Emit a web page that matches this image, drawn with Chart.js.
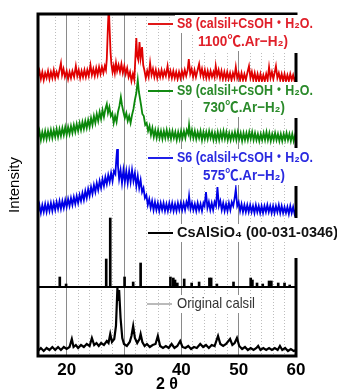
<!DOCTYPE html>
<html>
<head>
<meta charset="utf-8">
<script src="https://cdn.jsdelivr.net/npm/chart.js@4.4.1/dist/chart.umd.min.js"></script>
<style>
html,body{margin:0;padding:0;background:#fff;}
#wrap{width:337px;height:392px;}
</style>
</head>
<body>
<div id="wrap"><canvas id="c" width="337" height="392"></canvas></div>
<script>
// ---- data (2θ in degrees, stacked intensity in arbitrary units) ----
const xTickLabels = [20, 30, 40, 50, 60];

const seriesNames = [
  "S8 (calsil+CsOH・H₂O.", "S9 (calsil+CsOH・H₂O.", "S6 (calsil+CsOH・H₂O.",
  "CsAlSiO₄ (00-031-0346)", "Original calsil"
];
const seriesSub = ["1100℃.Ar−H₂)", "730℃.Ar−H₂)", "575℃.Ar−H₂)"];

const s8 = [[15,279],[15.25,285],[15.5,277],[15.75,284],[16,276],[16.25,283],[16.5,278],[16.75,285],[17,277],[17.25,284],[17.5,278],[17.75,286],[18,278],[18.25,284],[18.5,279],[18.75,286],[19,293],[19.2,281],[19.45,287],[19.7,279],[20,285],[20.25,277],[20.5,284],[20.75,278],[21,285],[21.3,279],[21.6,290],[21.85,280],[22.1,286],[22.35,278],[22.6,285],[22.85,279],[23.1,286],[23.35,279],[23.6,286],[23.85,280],[24.15,291],[24.4,281],[24.65,287],[24.9,280],[25.15,288],[25.4,281],[25.65,289],[25.9,282],[26.15,289],[26.4,283],[26.65,290],[26.85,286],[27.0,297],[27.2,330],[27.35,350],[27.5,326],[27.65,304],[27.8,292],[28.0,284],[28.2,290],[28.4,283],[28.6,293],[28.8,285],[29.05,291],[29.3,284],[29.55,292],[29.8,283],[30.05,290],[30.3,282],[30.55,288],[30.8,279],[31.05,284],[31.3,275],[31.55,282],[31.8,276],[32.0,300],[32.15,318],[32.3,300],[32.5,296],[32.7,314],[32.9,298],[33.15,309],[33.35,291],[33.55,286],[33.8,278],[34.05,285],[34.3,279],[34.55,293],[34.8,281],[35.05,287],[35.3,279],[35.55,286],[35.8,278],[36.05,285],[36.3,279],[36.55,286],[36.8,279],[37.05,285],[37.3,280],[37.6,290],[37.85,279],[38.1,285],[38.35,278],[38.6,285],[38.85,278],[39.1,284],[39.35,277],[39.6,284],[39.85,278],[40.1,285],[40.35,279],[40.6,286],[40.85,280],[41.1,286],[41.3,297],[41.55,282],[41.8,287],[42.05,279],[42.3,286],[42.55,279],[42.8,285],[43.1,292],[43.35,281],[43.6,287],[43.85,279],[44.1,286],[44.35,278],[44.6,285],[44.85,278],[45.1,285],[45.35,279],[45.6,284],[45.8,279],[46.0,290],[46.25,280],[46.5,286],[46.75,278],[47.0,285],[47.25,277],[47.5,284],[47.75,277],[48.0,284],[48.25,277],[48.5,283],[48.75,276],[49.0,283],[49.25,278],[49.5,289],[49.75,278],[50.0,283],[50.25,276],[50.5,283],[50.75,276],[51.0,282],[51.25,276],[51.55,284],[51.8,290],[52.05,278],[52.3,284],[52.55,276],[52.8,283],[53.05,275],[53.3,282],[53.55,275],[53.8,282],[54.05,275],[54.3,281],[54.55,275],[54.8,282],[55.05,276],[55.3,289],[55.55,278],[55.8,284],[56.05,277],[56.3,284],[56.5,290],[56.75,278],[57.0,283],[57.25,276],[57.5,282],[57.75,275],[58.0,282],[58.25,275],[58.5,281],[58.75,275],[59.0,282],[59.25,276],[59.5,281],[59.75,275],[60,280]];

const s9 = [[15,218],[15.25,225],[15.5,216],[15.75,224],[16,217],[16.25,225],[16.5,217],[16.75,225],[17,218],[17.25,226],[17.5,218],[17.75,226],[18,219],[18.25,227],[18.5,219],[18.75,227],[19,220],[19.25,228],[19.5,221],[19.75,229],[20,221],[20.25,229],[20.5,222],[20.75,230],[21,223],[21.25,231],[21.5,224],[21.75,232],[22,225],[22.25,233],[22.5,226],[22.75,234],[23,227],[23.25,235],[23.5,228],[23.75,236],[24,229],[24.25,238],[24.5,231],[24.75,240],[25,233],[25.25,242],[25.5,235],[25.75,244],[26,237],[26.25,246],[26.5,239],[26.75,247],[27.0,252],[27.2,243],[27.45,249],[27.7,240],[27.95,243],[28.2,233],[28.45,240],[28.7,234],[28.95,244],[29.2,250],[29.45,259],[29.65,251],[29.9,244],[30.15,238],[30.4,243],[30.65,235],[30.9,240],[31.15,233],[31.4,241],[31.65,247],[31.9,256],[32.15,263],[32.4,276],[32.6,264],[32.8,257],[33.0,250],[33.2,242],[33.45,240],[33.7,231],[33.95,233],[34.2,225],[34.45,230],[34.7,221],[34.95,228],[35.2,219],[35.45,226],[35.7,218],[35.95,226],[36.2,218],[36.45,225],[36.7,217],[36.95,225],[37.2,218],[37.45,226],[37.7,218],[37.95,225],[38.2,217],[38.45,225],[38.7,218],[38.95,224],[39.2,216],[39.45,224],[39.7,217],[39.95,225],[40.2,218],[40.45,225],[40.7,218],[40.95,226],[41.2,222],[41.35,231],[41.6,219],[41.85,226],[42.1,218],[42.35,225],[42.6,217],[42.85,224],[43.1,218],[43.35,225],[43.6,216],[43.85,224],[44.1,217],[44.35,224],[44.6,217],[44.85,225],[45.1,218],[45.35,224],[45.6,216],[45.85,223],[46.1,216],[46.35,224],[46.6,216],[46.85,224],[47.1,217],[47.35,225],[47.6,217],[47.85,224],[48.1,216],[48.35,223],[48.6,216],[48.85,223],[49.1,217],[49.35,224],[49.6,216],[49.85,224],[50.1,217],[50.35,223],[50.6,215],[50.85,223],[51.1,216],[51.35,223],[51.6,216],[51.85,224],[52.1,217],[52.35,224],[52.6,216],[52.85,223],[53.1,216],[53.35,222],[53.6,215],[53.85,222],[54.1,216],[54.35,223],[54.6,216],[54.85,224],[55.1,216],[55.35,223],[55.6,215],[55.85,222],[56.1,216],[56.35,223],[56.6,216],[56.85,222],[57.1,215],[57.35,222],[57.6,215],[57.85,222],[58.1,216],[58.35,223],[58.6,216],[58.85,222],[59.1,215],[59.35,222],[59.6,215],[59.85,221],[60,218]];

const s6 = [[15,143],[15.25,151],[15.5,143],[15.75,151],[16,144],[16.25,152],[16.5,144],[16.75,152],[17,145],[17.25,153],[17.5,145],[17.75,153],[18,146],[18.25,154],[18.5,147],[18.75,155],[19,147],[19.25,155],[19.5,148],[19.75,156],[20,149],[20.25,157],[20.5,150],[20.75,158],[21,151],[21.25,159],[21.5,152],[21.75,160],[22,153],[22.25,161],[22.5,155],[22.75,163],[23,156],[23.25,165],[23.5,158],[23.75,167],[24,160],[24.25,169],[24.5,162],[24.75,171],[25,164],[25.25,173],[25.5,166],[25.75,175],[26,168],[26.25,177],[26.5,170],[26.75,179],[27,172],[27.25,181],[27.5,174],[27.75,183],[28,175],[28.25,185],[28.5,182],[28.65,196],[28.8,207],[28.95,190],[29.15,177],[29.4,186],[29.65,173],[29.9,186],[30.15,174],[30.4,185],[30.65,173],[30.9,185],[31.15,174],[31.4,186],[31.65,175],[31.9,183],[32.15,170],[32.4,180],[32.65,168],[32.9,176],[33.15,164],[33.4,168],[33.65,158],[33.9,161],[34.15,151],[34.4,157],[34.65,148],[34.9,155],[35.15,146],[35.4,154],[35.65,146],[35.9,153],[36.15,145],[36.4,153],[36.65,146],[36.9,153],[37.15,145],[37.4,152],[37.65,145],[37.9,153],[38.15,146],[38.4,153],[38.65,145],[38.9,152],[39.15,145],[39.4,153],[39.65,146],[39.9,153],[40.15,146],[40.4,153],[40.65,146],[40.9,154],[41.15,149],[41.35,160],[41.6,147],[41.85,153],[42.1,146],[42.35,152],[42.6,145],[42.85,153],[43.1,146],[43.35,152],[43.6,145],[43.85,153],[44.05,150],[44.3,164],[44.55,148],[44.8,154],[45.05,146],[45.3,153],[45.55,146],[45.8,154],[46.05,150],[46.3,169],[46.55,150],[46.8,155],[47.05,146],[47.3,153],[47.55,145],[47.8,152],[48.05,145],[48.3,153],[48.55,146],[48.8,154],[49.05,150],[49.3,158],[49.5,167],[49.75,150],[50.0,154],[50.25,145],[50.5,152],[50.75,144],[51.0,151],[51.25,144],[51.5,151],[51.75,144],[52.0,151],[52.25,144],[52.5,150],[52.75,143],[53.0,151],[53.25,144],[53.5,150],[53.75,143],[54.0,150],[54.25,143],[54.5,150],[54.75,144],[55.0,151],[55.25,144],[55.5,150],[55.75,143],[56.0,150],[56.25,143],[56.5,150],[56.75,144],[57.0,151],[57.25,143],[57.5,150],[57.75,143],[58.0,149],[58.25,143],[58.5,149],[58.75,142],[59.0,150],[59.25,143],[59.5,149],[59.75,142],[60,147]];

const calsil = [[15,5],[15.5,8],[16,5],[16.5,8],[17,6],[17.5,9],[18,6],[18.5,9],[19,6],[19.5,9],[20,7],[20.5,9],[20.9,17],[21.2,9],[21.6,11],[22,8],[22.5,11],[23,9],[23.5,12],[24,10],[24.4,18],[24.8,11],[25.2,13],[25.6,10],[26,13],[26.5,11],[27,15],[27.3,13],[27.6,22],[27.9,14],[28.3,17],[28.6,30],[28.85,68],[29.0,55],[29.15,66],[29.4,38],[29.7,18],[30,12],[30.5,10],[31,14],[31.3,20],[31.6,30],[31.9,18],[32.3,13],[32.7,17],[32.9,22],[33.2,14],[33.6,10],[34,12],[34.5,9],[35,11],[35.5,12],[35.9,20],[36.3,10],[36.8,8],[37.3,10],[37.8,8],[38.3,12],[38.8,8],[39.3,10],[39.8,15],[40.2,9],[40.7,8],[41.2,10],[41.7,7],[42.2,9],[42.7,8],[43.3,12],[43.8,9],[44.3,11],[44.8,8],[45.3,11],[45.8,10],[46.4,20],[46.8,12],[47.3,10],[47.8,12],[48.5,17],[48.9,11],[49.3,13],[49.7,18],[50.1,10],[50.6,7],[51.1,9],[51.6,6],[52.1,8],[52.6,6],[53.1,8],[53.4,10],[53.8,6],[54.3,8],[54.8,6],[55.3,8],[55.8,6],[56.3,8],[56.8,6],[57.2,10],[57.6,6],[58.1,8],[58.6,5],[59.1,7],[59.6,5],[60,6]];

// CsAlSiO4 reference pattern (stick positions, stick tops, pattern baseline)
const csBase = 69;
const stickPos = [18.8,19.9,26.9,27.6,30.1,31.6,32.9,38.1,38.6,38.9,39.3,40.5,41.8,43.1,44.9,45.2,46.2,49.1,52.1,52.4,53.2,54.2,55.3,55.7,56.9,58.0,58.9];
const stickTop = [79,72,97,138,79,74,93,79,78,76,73,77,73,74,78,78,72,74,78,76,73,72,75,75,73,73,71];

// ---- chart ----
const sticks = stickPos.map((p, i) => ({x: p, y: [csBase, stickTop[i]]}));

const frameAndLegend = {
  id: 'frameAndLegend',
  afterDraw(chart) {
    const {ctx, chartArea: a} = chart;
    ctx.save();
    ctx.strokeStyle = '#000';
    ctx.lineWidth = 3;
    ctx.strokeRect(a.left, a.top, a.right - a.left, a.bottom - a.top);

    const fontMain = "bold 15px 'Liberation Sans', 'Noto Sans CJK JP', sans-serif";
    function txt(s, x, y, w, color, font) {
      ctx.font = font;
      ctx.textBaseline = 'middle';
      ctx.textAlign = 'left';
      const m = ctx.measureText(s).width;
      const sx = w / m;
      ctx.fillStyle = '#fff';
      ctx.fillRect(x - 2, y - 9, w + 4, 18);
      ctx.save();
      ctx.translate(x, y);
      ctx.scale(sx, 1);
      ctx.fillStyle = color;
      ctx.fillText(s, 0, 0);
      ctx.restore();
    }
    function seg(x1, x2, y, color, lw) {
      ctx.strokeStyle = color; ctx.lineWidth = lw;
      ctx.beginPath(); ctx.moveTo(x1, y); ctx.lineTo(x2, y); ctx.stroke();
    }
    function cover(y1, y2) {
      ctx.fillStyle = '#fff';
      ctx.fillRect(a.right - 3, y1, 8, y2 - y1);
    }
    cover(18, 53); cover(82, 118); cover(148, 186); cover(218, 258);

    seg(148, 173, 24, '#e01818', 2);
    txt(seriesNames[0], 177, 24, 136, '#e0202a', fontMain);
    txt(seriesSub[0], 198, 42, 90, '#e0202a', fontMain);

    seg(148, 173, 91, '#138a13', 2);
    txt(seriesNames[1], 177, 91, 136, '#2a8a2a', fontMain);
    txt(seriesSub[1], 203, 108, 82, '#2a8a2a', fontMain);

    seg(148, 173, 158, '#2020e8', 2);
    txt(seriesNames[2], 177, 158, 136, '#2a2ae0', fontMain);
    txt(seriesSub[2], 203, 176, 82, '#2a2ae0', fontMain);

    seg(148, 173, 233, '#000', 2);
    txt(seriesNames[3], 177, 233, 161, '#111', fontMain);

    seg(147, 172, 304, '#777', 1);
    txt(seriesNames[4], 177, 304, 78, '#333', "15px 'Liberation Sans', sans-serif");
    ctx.restore();
  }
};

const lineDs = (data, color, w) => ({
  type: 'line', data, borderColor: color, borderWidth: w,
  pointRadius: 0, tension: 0, fill: false
});

new Chart(document.getElementById('c'), {
  type: 'line',
  data: {
    datasets: [
      lineDs(s8, '#e00000', 1.8),
      lineDs(s9, '#0b880b', 1.8),
      lineDs(s6, '#0000e6', 1.8),
      lineDs([[15, csBase], [60, csBase]], '#000', 2),
      {type: 'bar', data: sticks, backgroundColor: '#000', borderWidth: 0, barThickness: 2},
      lineDs(calsil, '#000', 2.2)
    ]
  },
  options: {
    responsive: false,
    devicePixelRatio: 1,
    animation: false,
    events: [],
    layout: {padding: {left: 0, right: 41, top: 14, bottom: 0}},
    plugins: {legend: {display: false}, tooltip: {enabled: false}},
    scales: {
      x: {
        type: 'linear', min: 15, max: 60, offset: false,
        afterFit(s) { s.height = 36; },
        ticks: {
          stepSize: 2, autoSkip: false, maxRotation: 0, padding: 4,
          color: '#000',
          font: {family: "'Liberation Sans', sans-serif", size: 17, weight: 'bold'},
          callback: v => xTickLabels.includes(v) ? String(v) : ''
        },
        grid: {
          offset: false, drawTicks: false,
          color: c => (c.tick && c.tick.value % 10 === 0) ? '#8a8a8a' : '#bdbdbd',
          lineWidth: 1
        },
        border: {display: false, dash: c => (c.tick && c.tick.value % 10 === 0) ? [] : [1, 2]},
        title: {
          display: true, text: '2 θ', color: '#000',
          font: {family: "'Liberation Sans', sans-serif", size: 16, weight: 'bold', lineHeight: 1},
          padding: {top: 0, bottom: -1}
        }
      },
      y: {
        type: 'linear', min: 0, max: 342,
        afterFit(s) { s.width = 38; },
        ticks: {display: false},
        grid: {display: false},
        border: {display: false},
        title: {
          display: true, text: 'Intensity', color: '#000',
          font: {family: "'Liberation Sans', sans-serif", size: 15, lineHeight: 1.2},
          padding: {top: 6, bottom: 0}
        }
      }
    }
  },
  plugins: [frameAndLegend]
});
</script>
</body>
</html>
